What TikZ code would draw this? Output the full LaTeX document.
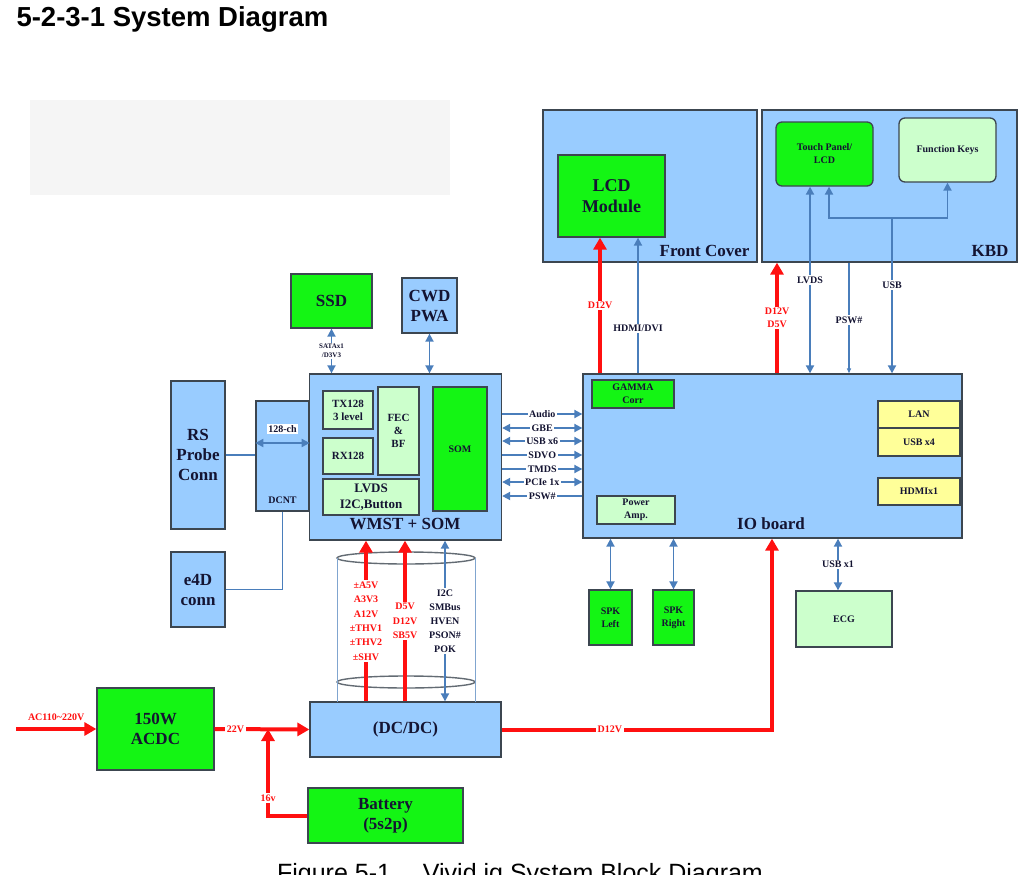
\documentclass[tikz,border=0pt]{standalone}
\usepackage{fontspec}
\setmainfont{Liberation Serif}
\newfontfamily\arialfont{Liberation Sans}
\usetikzlibrary{positioning,arrows.meta}

\definecolor{boxblue}{RGB}{153,204,255}
\definecolor{boxgreen}{RGB}{20,245,20}
\definecolor{palegreen}{RGB}{204,255,204}
\definecolor{paleyellow}{RGB}{255,255,153}
\definecolor{edgegray}{RGB}{60,70,80}
\definecolor{sigblue}{RGB}{74,126,187}
\definecolor{pwrred}{RGB}{255,16,16}
\definecolor{ink}{RGB}{20,20,50}

\newcommand\fbig{\bfseries\fontsize{17}{20}\selectfont}
\newcommand\fmid{\bfseries\fontsize{11}{13}\selectfont}
\newcommand\fsmall{\bfseries\fontsize{10}{13}\selectfont}

\begin{document}
\begin{tikzpicture}[
    x=1pt, y=-1pt,
    box/.style={
        draw=edgegray,
        line width=1.3pt,
        align=center,
        text=ink,
        inner sep=1pt
    },
    sz/.style 2 args={minimum width=#1, minimum height=#2},
    bluebox/.style={box, fill=boxblue},
    greenbox/.style={box, fill=boxgreen},
    palebox/.style={box, fill=palegreen},
    yellowbox/.style={box, fill=paleyellow},
    sig/.style={draw=sigblue, line width=1.8pt},
    sigfwd/.style={sig, -{Triangle[length=8pt,width=8pt]}},
    sigboth/.style={sig, {Triangle[length=8pt,width=8pt]}-{Triangle[length=8pt,width=8pt]}},
    sigback/.style={sig, {Triangle[length=8pt,width=8pt]}-},
    power/.style={draw=pwrred, line width=4pt, -{Triangle[length=12pt,width=13pt]}},
    tag/.style={fill=white, inner sep=1.5pt, align=center, font=\fsmall, text=ink},
    redtag/.style={tag, text=pwrred},
    cylline/.style={draw=edgegray!80, line width=1.4pt}
]
\useasboundingbox (0,0) rectangle (1036,875);

\node[anchor=base west, font=\arialfont\bfseries\fontsize{27.5}{31}\selectfont] (title) at (13,27) {5-2-3-1 System Diagram};
\fill[black!4] (30,100) rectangle (450,195);

% front cover and keyboard
\node[bluebox, sz={214}{152}] (front) at (650,186) {};
\node[anchor=base east, font=\fbig, text=ink] (frontlbl) at (753,256) {Front Cover};
\node[bluebox, sz={255}{152}] (kbd) at (889.5,186) {};
\node[anchor=base east, font=\fbig, text=ink] (kbdlbl) at (1012,256) {KBD};
\node[greenbox, sz={107}{82}, font=\bfseries\fontsize{18}{21}\selectfont] (lcd) at (611.5,196) {LCD\\Module};
\node[greenbox, rounded corners=6pt, sz={97}{64}, font=\fsmall] (touch) at (824.5,154) {Touch Panel/\\LCD};
\node[palebox, rounded corners=6pt, sz={97}{64}, font=\fsmall] (fkeys) at (947.5,150) {Function Keys};

% IO board
\node[bluebox, sz={379}{164}] (io) at (772.5,456) {};
\node[anchor=base, font=\fbig, text=ink] (iolbl) at (771,529) {IO board};
\node[greenbox, sz={82}{28}, font=\fsmall] (gamma) at (633,394) {GAMMA\\Corr};
\node[palebox, sz={78}{28}, font=\fsmall] (pamp) at (636,510) {Power\\Amp.};
\node[yellowbox, sz={82}{27}, font=\fsmall] (lan) at (919,414.5) {LAN};
\node[yellowbox, sz={82}{28}, font=\fsmall] (usbfour) at (919,442) {USB x4};
\node[yellowbox, sz={82}{27}, font=\fsmall] (hdmi) at (919,491.5) {HDMIx1};

% WMST + SOM
\node[bluebox, sz={192}{166}] (wmst) at (405.5,457) {};
\node[anchor=base, font=\fbig, text=ink] (wmstlbl) at (405,529) {WMST + SOM};
\node[palebox, sz={50}{38}, font=\fmid] (tx) at (348,410) {TX128\\3 level};
\node[palebox, sz={50}{36}, font=\fmid] (rx) at (348,456) {RX128};
\node[palebox, sz={41}{88}, font=\fmid] (fec) at (398.5,431) {FEC\\\&\\BF};
\node[palebox, sz={96}{36}, font=\bfseries\fontsize{13}{16}\selectfont] (lvds) at (371,497) {LVDS\\I2C,Button};
\node[greenbox, sz={54}{124}, font=\fsmall] (som) at (460,449) {SOM};

% parts round the WMST
\node[greenbox, sz={81}{54}, font=\fbig] (ssd) at (331.5,301) {SSD};
\node[bluebox, sz={55}{55}, font=\fbig] (cwd) at (429.5,305.5) {CWD\\PWA};
\node[bluebox, sz={54}{148}, font=\fbig] (rs) at (198,455) {RS\\Probe\\Conn};
\node[bluebox, sz={53}{110}] (dcnt) at (282.5,456) {};
\node[font=\fsmall, text=ink] (dcntlbl) at (282.5,500) {DCNT};
\node[bluebox, sz={54}{75}, font=\fbig] (e4d) at (198,589.5) {e4D\\conn};

% power
\node[greenbox, sz={117}{82}, font=\fbig] (acdc) at (155.5,729) {150W\\ACDC};
\node[bluebox, sz={191}{55}, font=\fbig] (dcdc) at (405.5,729.5) {(DC/DC)};
\node[greenbox, sz={155}{55}, font=\fbig] (batt) at (385.5,815.5) {Battery\\(5s2p)};

% speakers and ECG
\node[greenbox, sz={43}{55}, font=\fsmall] (spkl) at (610.5,617.5) {SPK\\Left};
\node[greenbox, sz={41}{55}, font=\fsmall] (spkr) at (673.5,617.5) {SPK\\Right};
\node[palebox, sz={96}{56}, font=\fsmall] (ecg) at (844,619) {ECG};

% front cover and keyboard links
\draw[power] (io.north -| 600,0) -- (lcd.south -| 600,0) node[midway, redtag] {D12V};
\draw[sigfwd] (io.north -| 638,0) -- (lcd.south -| 638,0) node[pos=0.33, tag] {HDMI/DVI};
\draw[power] (io.north -| 777,0) -- (kbd.south -| 777,0) node[midway, redtag] {D12V\\D5V};
\draw[sigboth] (io.north -| 810,0) -- (touch.south -| 810,0) node[midway, tag] {LVDS};
\draw[draw=sigblue, line width=1.2pt, -{Triangle[length=5pt,width=4pt]}] (kbd.south -| 849,0) -- (io.north -| 849,0) node[pos=0.52, tag] {PSW\#};
\coordinate (usbj) at (892,218);
\draw[sigboth] (touch.south -| 829,0) |- (usbj) -| (fkeys.south);
\draw[sigfwd] (usbj) -- (io.north -| usbj) node[pos=0.43, tag] {USB};

% buses between WMST and IO board
\foreach \yy/\busname/\tip in {414/Audio/sigfwd, 428/GBE/sigboth, 441/USB x6/sigboth,
    455/SDVO/sigfwd, 469/TMDS/sigfwd, 482/PCIe 1x/sigboth, 496/PSW\#/sigback}
    \draw[\tip] (wmst.east |- 0,\yy) -- (io.west |- 0,\yy) node[midway, tag] {\busname};

% WMST links
\draw[sigboth] (ssd.south) -- (ssd.south |- wmst.north)
    node[midway, tag, font=\bfseries\fontsize{7}{9}\selectfont] {SATAx1\\/D3V3};
\draw[sigboth] (cwd.south) -- (cwd.south |- wmst.north);
\draw[sig] (rs.east) -- (rs.east -| dcnt.west);
\draw[sigboth] (dcnt.west |- 0,443) -- (dcnt.east |- 0,443);
\node[tag] (chlbl) at (282.5,429) {128-ch};
\draw[sig] (e4d.east) -| (dcnt.south);

% cable bundle
\draw[cylline] (406,558) ellipse [x radius=69, y radius=6];
\draw[cylline] (406,682) ellipse [x radius=69, y radius=6];
\draw[sigblue!70, line width=1pt] (337,558) -- (337,702) (475,558) -- (475,702);
\draw[power] (dcdc.north -| 366,0) -- (wmst.south -| 366,0)
    node[midway, redtag, font=\bfseries\fontsize{10}{14.4}\selectfont] {±A5V\\A3V3\\A12V\\±THV1\\±THV2\\±SHV};
\draw[power] (dcdc.north -| 405,0) -- (wmst.south -| 405,0)
    node[midway, redtag, font=\bfseries\fontsize{10}{14.4}\selectfont] {D5V\\D12V\\SB5V};
\draw[sigboth] (dcdc.north -| 445,0) -- (wmst.south -| 445,0)
    node[midway, tag, font=\bfseries\fontsize{10}{14}\selectfont] {I2C\\SMBus\\HVEN\\PSON\#\\POK};

% power inputs
\coordinate (acin) at (16,729);
\coordinate (junc) at (268,729);
\draw[power] (acin) -- (acdc.west) node[midway, above=3pt, text=pwrred, font=\fsmall] {AC110\textasciitilde220V};
\draw[power] (acdc.east) -- (dcdc.west) node[pos=0.22, redtag] {22V};
\draw[power] (batt.west) -| (junc) node[pos=0.6, redtag] {16v};
\draw[power] (dcdc.east) -| (io.south -| 772,0) node[pos=0.2, redtag] {D12V};

% IO board bottom links
\draw[sigboth] (spkl.north) -- (spkl.north |- io.south);
\draw[sigboth] (spkr.north) -- (spkr.north |- io.south);
\draw[sigboth] (io.south -| 838,0) -- (ecg.north -| 838,0) node[midway, tag] {USB x1};

\node[anchor=base, font=\arialfont\fontsize{25}{28}\selectfont] (caption) at (520,881) {Figure 5-1\quad\ Vivid iq System Block Diagram};
\end{tikzpicture}
\end{document}
